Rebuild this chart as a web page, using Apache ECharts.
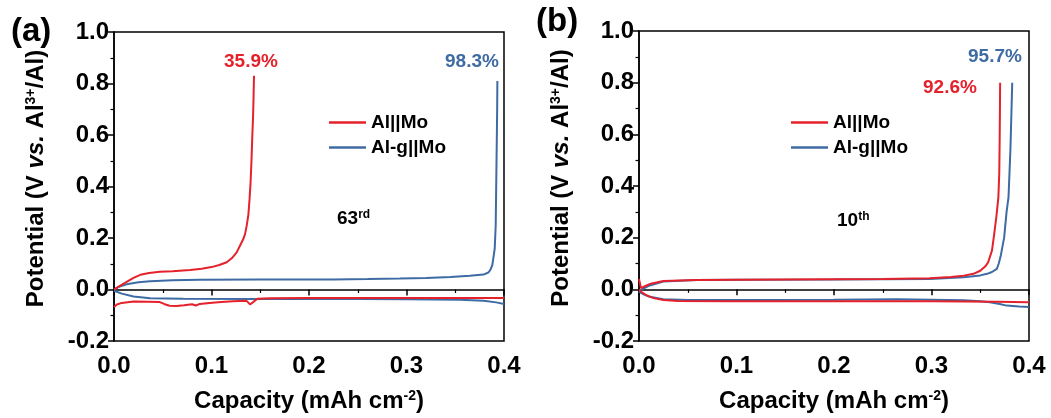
<!DOCTYPE html>
<html>
<head>
<meta charset="utf-8">
<script src="https://cdn.jsdelivr.net/npm/echarts@6/dist/echarts.min.js"></script>
<style>
  html, body { margin: 0; padding: 0; background: #fff; }
  #chart { width: 1051px; height: 418px; }
</style>
</head>
<body>
<div id="chart"></div>
<script>
// Galvanostatic plating/stripping profiles, [capacity (mAh cm-2), potential (V)]
// Panel (a): 63rd cycle
const alMoDischargeA = [[0,-0.068],[0.003,-0.058],[0.008,-0.052],[0.02,-0.047],[0.035,-0.048],[0.047,-0.049],[0.052,-0.057],[0.057,-0.063],[0.064,-0.064],[0.072,-0.061],[0.08,-0.057],[0.084,-0.062],[0.088,-0.056],[0.098,-0.052],[0.11,-0.049],[0.122,-0.046],[0.136,-0.044],[0.1395,-0.058],[0.1405,-0.062],[0.143,-0.048],[0.147,-0.036],[0.16,-0.034],[0.2,-0.033],[0.3,-0.033],[0.4,-0.033]];
const alMoChargeA = [[0,0.0],[0.006,0.014],[0.013,0.03],[0.02,0.045],[0.027,0.057],[0.036,0.064],[0.047,0.069],[0.06,0.071],[0.078,0.076],[0.09,0.081],[0.1,0.087],[0.108,0.095],[0.1156,0.106],[0.121,0.122],[0.1258,0.144],[0.1292,0.17],[0.1325,0.195],[0.1344,0.215],[0.1362,0.25],[0.1378,0.29],[0.139,0.35],[0.14,0.41],[0.141,0.5],[0.1418,0.59],[0.1426,0.67],[0.1431,0.74],[0.1436,0.83]];
const alGMoDischargeA = [[0,-0.005],[0.008,-0.016],[0.02,-0.027],[0.037,-0.034],[0.071,-0.036],[0.15,-0.037],[0.25,-0.037],[0.3,-0.038],[0.355,-0.04],[0.379,-0.044],[0.392,-0.05],[0.4,-0.056]];
const alGMoChargeA = [[0,0.0],[0.005,0.01],[0.013,0.02],[0.025,0.028],[0.037,0.032],[0.06,0.036],[0.088,0.038],[0.15,0.039],[0.225,0.039],[0.26,0.041],[0.293,0.043],[0.32,0.045],[0.345,0.049],[0.365,0.053],[0.379,0.058],[0.384,0.066],[0.386,0.076],[0.388,0.095],[0.389,0.12],[0.3905,0.16],[0.3915,0.25],[0.392,0.4],[0.3925,0.55],[0.393,0.7],[0.3932,0.81]];

// Panel (b): 10th cycle
const alMoDischargeB = [[0,0.0],[0.003,-0.012],[0.0076,-0.023],[0.015,-0.034],[0.025,-0.041],[0.04,-0.045],[0.093,-0.046],[0.2,-0.046],[0.3,-0.046],[0.367,-0.048],[0.4,-0.05]];
const alMoChargeB = [[0,0.04],[0.002,0.005],[0.006,0.012],[0.012,0.022],[0.025,0.032],[0.059,0.036],[0.1,0.037],[0.196,0.039],[0.25,0.04],[0.298,0.043],[0.32,0.048],[0.333,0.053],[0.343,0.06],[0.35,0.072],[0.355,0.088],[0.358,0.104],[0.362,0.15],[0.364,0.205],[0.3665,0.28],[0.3686,0.357],[0.3695,0.45],[0.37,0.61],[0.3704,0.8]];
const alGMoDischargeB = [[0,-0.01],[0.004,-0.018],[0.011,-0.029],[0.025,-0.038],[0.05,-0.041],[0.1,-0.041],[0.2,-0.04],[0.264,-0.038],[0.3,-0.04],[0.333,-0.042],[0.35,-0.046],[0.36,-0.05],[0.37,-0.057],[0.377,-0.063],[0.39,-0.066],[0.4,-0.068]];
const alGMoChargeB = [[0,-0.01],[0.004,0.002],[0.011,0.015],[0.025,0.03],[0.059,0.036],[0.1,0.037],[0.2,0.038],[0.298,0.04],[0.333,0.047],[0.35,0.054],[0.357,0.06],[0.362,0.067],[0.367,0.079],[0.369,0.1],[0.371,0.13],[0.372,0.15],[0.3745,0.2],[0.377,0.3],[0.379,0.357],[0.381,0.547],[0.3828,0.8]];

const seriesNames = ['Al||Mo', 'Al-g||Mo'];
const xTicks = { min: 0, max: 0.4, interval: 0.1 };
const yTicks = { min: -0.2, max: 1.0, interval: 0.2 };

const RED = '#e5212b';
const BLUE = '#3e6ba3';
const FONT = '"Liberation Sans", Arial, sans-serif';

const chart = echarts.init(document.getElementById('chart'), null, { renderer: 'canvas' });

function makeXAxis(gridIndex) {
  return {
    type: 'value', gridIndex,
    min: xTicks.min, max: xTicks.max, interval: xTicks.interval,
    axisLine: { lineStyle: { color: '#000', width: 1.5 } },
    axisTick: { inside: false, length: 6, lineStyle: { color: '#000', width: 1.5 } },
    minorTick: { show: true, splitNumber: 2, length: 3.5, lineStyle: { color: '#000', width: 1.2 } },
    splitLine: { show: false },
    axisLabel: { color: '#000', fontSize: 24, fontWeight: 'bold', fontFamily: FONT, margin: 13,
      formatter: v => v.toFixed(1) },
    name: 'Capacity (mAh cm{sup|-2})',
    nameLocation: 'middle', nameGap: 48,
    nameTextStyle: { color: '#000', fontSize: 24, fontWeight: 'bold', fontFamily: FONT,
      rich: { sup: { fontSize: 14, fontWeight: 'bold', fontFamily: FONT, verticalAlign: 'top', color: '#000' } } }
  };
}

function makeYAxis(gridIndex) {
  return {
    type: 'value', gridIndex,
    min: yTicks.min, max: yTicks.max, interval: yTicks.interval,
    axisLine: { lineStyle: { color: '#000', width: 1.5 } },
    axisTick: { inside: false, length: 6, lineStyle: { color: '#000', width: 1.5 } },
    minorTick: { show: true, splitNumber: 2, length: 3.5, lineStyle: { color: '#000', width: 1.2 } },
    splitLine: { show: false },
    axisLabel: { color: '#000', fontSize: 24, fontWeight: 'bold', fontFamily: FONT, margin: 5,
      formatter: v => v.toFixed(1) },
    name: 'Potential (V {it|vs.} Al{sup|3+}/Al)',
    nameLocation: 'middle', nameRotate: 90, nameGap: 66,
    nameTextStyle: { color: '#000', fontSize: 24, fontWeight: 'bold', fontFamily: FONT,
      padding: [0, 0, 0, 16],
      rich: {
        it: { fontSize: 24, fontWeight: 'bold', fontStyle: 'italic', fontFamily: FONT, color: '#000' },
        sup: { fontSize: 14, fontWeight: 'bold', fontFamily: FONT, verticalAlign: 'top', color: '#000' }
      } }
  };
}

function line(name, data, color, idx) {
  return {
    type: 'line', name, data, xAxisIndex: idx, yAxisIndex: idx,
    showSymbol: false, symbol: 'none', smooth: false,
    lineStyle: { color, width: 2 }, itemStyle: { color },
    emphasis: { disabled: true }, z: name === seriesNames[0] ? 3 : 2
  };
}

function legendAt(left) {
  return {
    left, top: 108, orient: 'vertical', icon: 'rect', itemWidth: 37, itemHeight: 2.5, itemGap: 6,
    selectedMode: false, data: seriesNames,
    textStyle: { color: '#000', fontSize: 19, fontWeight: 'bold', fontFamily: FONT }
  };
}

function txt(text, left, top, color, size, rich) {
  return { type: 'text', left, top, style: { text, fill: color, font: `bold ${size}px ${FONT}`, rich } };
}

const supRich = { sup: { fontSize: 12, fontWeight: 'bold', fill: '#000', verticalAlign: 'top', fontFamily: FONT } };

chart.setOption({
  animation: false,
  grid: [
    { left: 114, right: 547, top: 32, bottom: 71, show: true, borderColor: '#000', borderWidth: 1.5, containLabel: false },
    { left: 639, right: 22, top: 31, bottom: 71, show: true, borderColor: '#000', borderWidth: 1.5, containLabel: false }
  ],
  xAxis: [makeXAxis(0), makeXAxis(1)],
  yAxis: [makeYAxis(0), makeYAxis(1)],
  legend: [legendAt(324), legendAt(786)],
  series: [
    line(seriesNames[0], alMoDischargeA, RED, 0),
    line(seriesNames[0], alMoChargeA, RED, 0),
    line(seriesNames[1], alGMoDischargeA, BLUE, 0),
    line(seriesNames[1], alGMoChargeA, BLUE, 0),
    line(seriesNames[0], alMoDischargeB, RED, 1),
    line(seriesNames[0], alMoChargeB, RED, 1),
    line(seriesNames[1], alGMoDischargeB, BLUE, 1),
    line(seriesNames[1], alGMoChargeB, BLUE, 1)
  ],
  graphic: [
    txt('(a)', 11, 15, '#000', 33),
    txt('(b)', 536, 5, '#000', 33),
    txt('35.9%', 224, 52, RED, 19),
    txt('98.3%', 445, 52, BLUE, 19),
    txt('95.7%', 968, 47, BLUE, 19),
    txt('92.6%', 923, 78, RED, 19),
    txt('63{sup|rd}', 337, 209, '#000', 19, supRich),
    txt('10{sup|th}', 837, 211, '#000', 19, supRich)
  ]
});
</script>
</body>
</html>
